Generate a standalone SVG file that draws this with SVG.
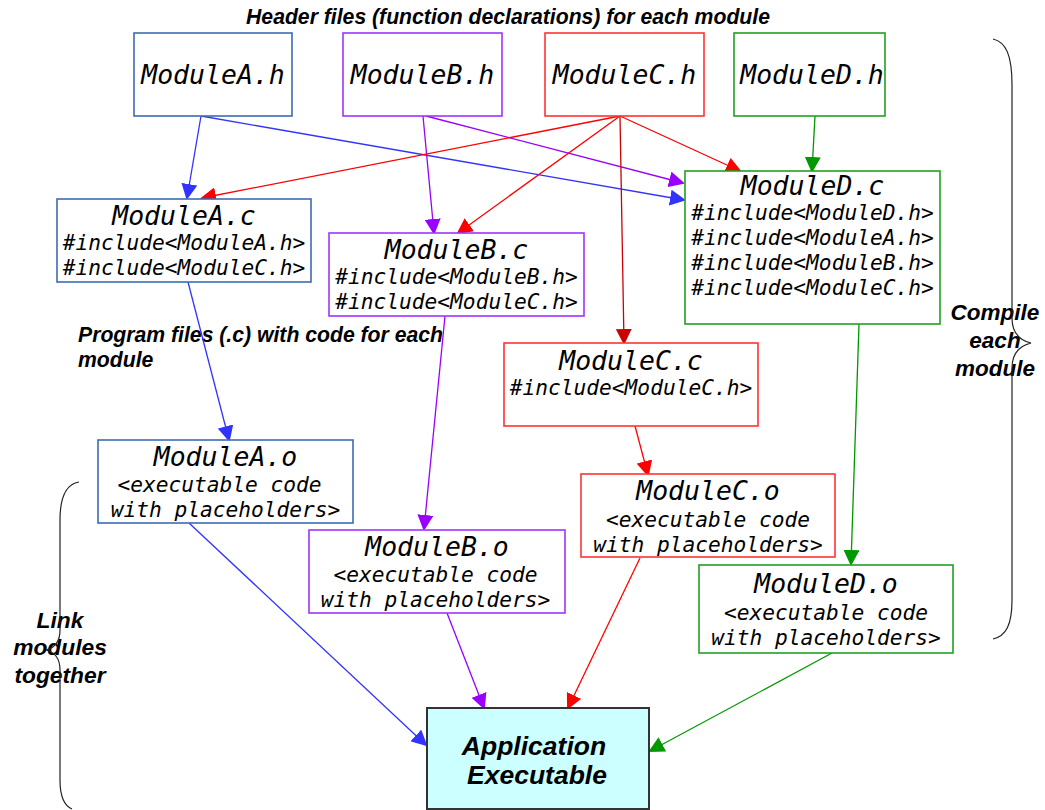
<svg xmlns="http://www.w3.org/2000/svg" width="1045" height="810" viewBox="0 0 1045 810">
<style>
.bg{fill:#ffffff}
.box{fill:#ffffff;stroke-width:1.6}
.ba{stroke:#3d6bb3}.bb{stroke:#a033ff}.bc{stroke:#ff3333}.bd{stroke:#22a022}
.app{fill:#ccffff;stroke:#333333;stroke-width:2}
.mono{font-family:"DejaVu Sans Mono",monospace;font-style:oblique;fill:#000;text-anchor:middle}
.t1{font-size:26.5px}
.t2{font-size:21.2px}
.lbl{font-family:"Liberation Sans",Arial,sans-serif;font-weight:bold;font-style:italic;fill:#000}
.c{fill:none;stroke-width:1.3}
.ca{stroke:#3333ff}.cb{stroke:#9900ff}.cc{stroke:#ff0000}.cdr{stroke:#cc0000}.cd{stroke:#009900}
.brace{fill:none;stroke:#222;stroke-width:1.2}
</style>
<defs>
<marker id="ma" markerUnits="userSpaceOnUse" markerWidth="16" markerHeight="16" refX="14" refY="8" orient="auto"><path d="M0,0 L16,8 L0,16 z" fill="#3333ff"/></marker>
<marker id="mb" markerUnits="userSpaceOnUse" markerWidth="16" markerHeight="16" refX="14" refY="8" orient="auto"><path d="M0,0 L16,8 L0,16 z" fill="#9900ff"/></marker>
<marker id="mc" markerUnits="userSpaceOnUse" markerWidth="16" markerHeight="16" refX="14" refY="8" orient="auto"><path d="M0,0 L16,8 L0,16 z" fill="#ff0000"/></marker>
<marker id="mdr" markerUnits="userSpaceOnUse" markerWidth="16" markerHeight="16" refX="14" refY="8" orient="auto"><path d="M0,0 L16,8 L0,16 z" fill="#cc0000"/></marker>
<marker id="md" markerUnits="userSpaceOnUse" markerWidth="16" markerHeight="16" refX="14" refY="8" orient="auto"><path d="M0,0 L16,8 L0,16 z" fill="#009900"/></marker>
</defs>
<rect class="bg" x="0" y="0" width="1045" height="810"/>

<g id="labels">
<text class="lbl" x="508" y="24" font-size="21.2" text-anchor="middle">Header files (function declarations) for each module</text>
<text class="lbl" x="78" y="342" font-size="21.2">Program files (.c) with code for each</text>
<text class="lbl" x="78" y="367" font-size="21.2">module</text>
<text class="lbl" font-size="22.8" text-anchor="middle"><tspan x="60" y="628">Link</tspan><tspan x="60" y="655">modules</tspan><tspan x="60" y="683">together</tspan></text>
<text class="lbl" font-size="22.5" text-anchor="middle"><tspan x="995" y="320">Compile</tspan><tspan x="995" y="348">each</tspan><tspan x="995" y="376">module</tspan></text>
</g>

<g id="braces">
<path class="brace" d="M993,39 C1006,42 1012,55 1012,85 L1012,318 C1012,333 1019,340 1031,343 C1019,346 1012,353 1012,368 L1012,600 C1012,625 1006,636 993,639"/>
<path class="brace" d="M79,482 C67,484 60,496 60,520 L60,630 C60,642 54,648 46,650 C54,652 60,658 60,670 L60,780 C60,798 65,806 72,809"/>
</g>

<g id="connectors">
<line class="c ca" x1="201" y1="116" x2="187" y2="198" marker-end="url(#ma)"/>
<line class="c ca" x1="201" y1="116" x2="684" y2="200" marker-end="url(#ma)"/>
<line class="c cb" x1="423" y1="116" x2="434" y2="233" marker-end="url(#mb)"/>
<line class="c cb" x1="426" y1="116" x2="683" y2="183" marker-end="url(#mb)"/>
<line class="c cc" x1="620" y1="116" x2="202" y2="198" marker-end="url(#mc)"/>
<line class="c cc" x1="620" y1="116" x2="458" y2="233" marker-end="url(#mc)"/>
<line class="c cc" x1="620" y1="116" x2="740" y2="171" marker-end="url(#mc)"/>
<line class="c cdr" x1="620" y1="116" x2="624" y2="343" marker-end="url(#mdr)"/>
<line class="c cd" x1="815" y1="116" x2="812" y2="171" marker-end="url(#md)"/>
<line class="c ca" x1="188" y1="282" x2="229" y2="440" marker-end="url(#ma)"/>
<line class="c cb" x1="445" y1="316" x2="424" y2="529" marker-end="url(#mb)"/>
<line class="c cc" x1="635" y1="426" x2="648" y2="475" marker-end="url(#mc)"/>
<line class="c cd" x1="859" y1="324" x2="851" y2="564" marker-end="url(#md)"/>
<line class="c ca" x1="189" y1="523" x2="426" y2="745" marker-end="url(#ma)"/>
<line class="c cb" x1="447" y1="613" x2="484" y2="708" marker-end="url(#mb)"/>
<line class="c cc" x1="640" y1="558" x2="568" y2="708" marker-end="url(#mc)"/>
<line class="c cd" x1="832" y1="653" x2="650" y2="751" marker-end="url(#md)"/>
</g>

<g id="ModuleA_h"><rect class="box ba" x="134" y="33" width="158" height="83"/><text class="mono t1" x="213" y="84">ModuleA.h</text></g>
<g id="ModuleB_h"><rect class="box bb" x="343" y="33" width="159" height="83"/><text class="mono t1" x="422.5" y="84">ModuleB.h</text></g>
<g id="ModuleC_h"><rect class="box bc" x="545" y="33" width="159" height="83"/><text class="mono t1" x="624.5" y="84">ModuleC.h</text></g>
<g id="ModuleD_h"><rect class="box bd" x="734" y="33" width="151" height="83"/><text class="mono t1" x="812" y="84">ModuleD.h</text></g>

<g id="ModuleA_c"><rect class="box ba" x="57" y="199" width="254" height="83"/>
<text class="mono t1" x="184" y="225">ModuleA.c</text>
<text class="mono t2" x="184" y="250">#include&lt;ModuleA.h&gt;</text>
<text class="mono t2" x="184" y="275">#include&lt;ModuleC.h&gt;</text></g>

<g id="ModuleB_c"><rect class="box bb" x="329" y="233" width="255" height="83"/>
<text class="mono t1" x="456.5" y="259">ModuleB.c</text>
<text class="mono t2" x="456.5" y="284">#include&lt;ModuleB.h&gt;</text>
<text class="mono t2" x="456.5" y="309">#include&lt;ModuleC.h&gt;</text></g>

<g id="ModuleD_c"><rect class="box bd" x="685" y="171" width="255" height="153"/>
<text class="mono t1" x="812.5" y="195">ModuleD.c</text>
<text class="mono t2" x="812.5" y="220">#include&lt;ModuleD.h&gt;</text>
<text class="mono t2" x="812.5" y="245">#include&lt;ModuleA.h&gt;</text>
<text class="mono t2" x="812.5" y="270">#include&lt;ModuleB.h&gt;</text>
<text class="mono t2" x="812.5" y="295">#include&lt;ModuleC.h&gt;</text></g>

<g id="ModuleC_c"><rect class="box bc" x="504" y="343" width="254" height="83"/>
<text class="mono t1" x="631" y="370">ModuleC.c</text>
<text class="mono t2" x="631" y="395">#include&lt;ModuleC.h&gt;</text></g>

<g id="ModuleA_o"><rect class="box ba" x="98" y="440" width="255" height="83"/>
<text class="mono t1" x="225.5" y="466">ModuleA.o</text>
<text class="mono t2" x="219.5" y="492">&lt;executable code</text>
<text class="mono t2" x="225.5" y="517">with placeholders&gt;</text></g>

<g id="ModuleB_o"><rect class="box bb" x="309" y="530" width="256" height="83"/>
<text class="mono t1" x="437" y="556">ModuleB.o</text>
<text class="mono t2" x="435.5" y="582">&lt;executable code</text>
<text class="mono t2" x="435.5" y="607">with placeholders&gt;</text></g>

<g id="ModuleC_o"><rect class="box bc" x="581" y="474" width="254" height="83"/>
<text class="mono t1" x="708" y="500">ModuleC.o</text>
<text class="mono t2" x="708" y="527">&lt;executable code</text>
<text class="mono t2" x="708" y="552">with placeholders&gt;</text></g>

<g id="ModuleD_o"><rect class="box bd" x="699" y="565" width="254" height="88"/>
<text class="mono t1" x="826" y="593">ModuleD.o</text>
<text class="mono t2" x="826" y="620">&lt;executable code</text>
<text class="mono t2" x="826" y="645">with placeholders&gt;</text></g>

<g id="Application"><rect class="app" x="427" y="708" width="222" height="101"/>
<text class="lbl" font-size="26.5" text-anchor="middle"><tspan x="534" y="755">Application</tspan><tspan x="537" y="784">Executable</tspan></text></g>
</svg>
